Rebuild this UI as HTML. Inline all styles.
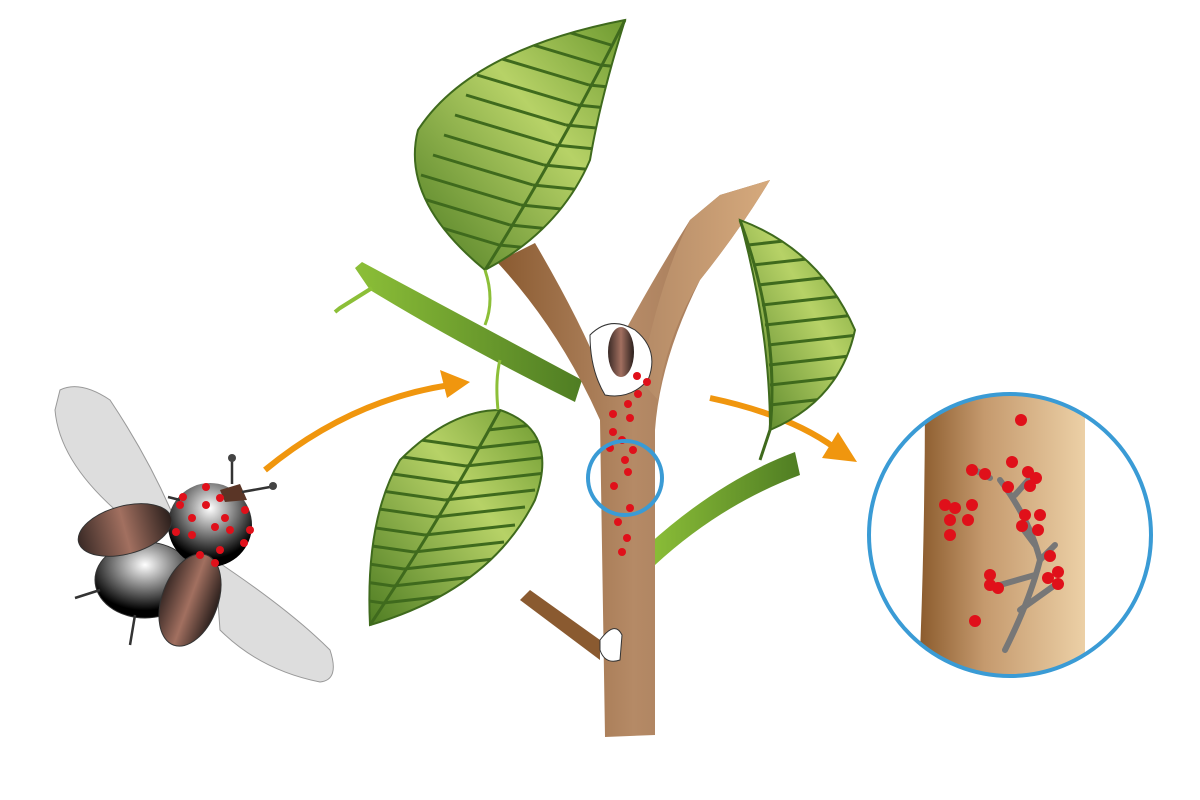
<!DOCTYPE html>
<html><head><meta charset="utf-8"><style>html,body{margin:0;padding:0;background:#fff}svg{display:block}</style></head><body>
<svg width="1200" height="800" viewBox="0 0 1200 800" xmlns="http://www.w3.org/2000/svg">
<defs>
<linearGradient id="trunk" x1="0" x2="1"><stop offset="0" stop-color="#8a5a30"/><stop offset="0.5" stop-color="#b58a66"/><stop offset="1" stop-color="#9b7050"/></linearGradient>
<linearGradient id="trunkR" x1="0" x2="1"><stop offset="0" stop-color="#b48a66"/><stop offset="1" stop-color="#d6aa7d"/></linearGradient>
<linearGradient id="zoomT" x1="0" x2="1"><stop offset="0" stop-color="#8a5a2c"/><stop offset="0.4" stop-color="#c59a6e"/><stop offset="1" stop-color="#ecd0a6"/></linearGradient>
<linearGradient id="leaf" x1="0" x2="1" y1="1" y2="0"><stop offset="0" stop-color="#4f7d23"/><stop offset="0.6" stop-color="#b7d267"/><stop offset="1" stop-color="#6e9a30"/></linearGradient>
<linearGradient id="twig" x1="0" x2="1"><stop offset="0" stop-color="#8cbf38"/><stop offset="1" stop-color="#4f7d23"/></linearGradient>
<radialGradient id="body" cx="0.5" cy="0.3" r="0.6"><stop offset="0" stop-color="#fff"/><stop offset="1" stop-color="#000"/></radialGradient>
<linearGradient id="ely" x1="0" x2="1"><stop offset="0" stop-color="#3a2a26"/><stop offset="0.5" stop-color="#a27060"/><stop offset="1" stop-color="#2a1f1c"/></linearGradient>
<clipPath id="l1"><path d="M485 270 Q400 200 418 130 Q470 50 625 20 Q600 100 590 160 Q560 230 485 270Z"/></clipPath>
<clipPath id="l2"><path d="M370 625 Q365 520 400 460 Q450 410 500 410 Q560 430 535 500 Q490 590 370 625Z"/></clipPath>
<clipPath id="l3"><path d="M740 220 Q820 250 855 330 Q840 400 770 430 Q770 330 740 220Z"/></clipPath>
</defs>
<!-- beetle wings -->
<path d="M60 390 Q80 380 110 400 Q150 460 175 520 L140 530 Q60 470 55 410Z" fill="#ddd" stroke="#999"/>
<path d="M215 560 Q290 610 330 650 Q340 680 320 682 Q260 670 220 630Z" fill="#ddd" stroke="#999"/>
<!-- beetle body -->
<ellipse cx="145" cy="580" rx="50" ry="38" fill="url(#body)" stroke="#333"/>
<circle cx="210" cy="525" r="42" fill="url(#body)"/>
<path d="M220 490 L240 484 L247 500 L225 502Z" fill="#5a3526"/>
<path d="M232 484 L232 460 M242 492 L270 487 M180 500 L168 497 M75 598 L100 590 M135 615 L130 645" stroke="#333" stroke-width="2.5" fill="none"/>
<circle cx="232" cy="458" r="4" fill="#444"/><circle cx="273" cy="486" r="4" fill="#444"/>
<ellipse cx="125" cy="530" rx="48" ry="24" transform="rotate(-15 125 530)" fill="url(#ely)" stroke="#333"/>
<ellipse cx="190" cy="600" rx="28" ry="48" transform="rotate(20 190 600)" fill="url(#ely)" stroke="#333"/>
<g fill="#e0101a">
<circle cx="183" cy="497" r="4"/><circle cx="206" cy="487" r="4"/><circle cx="220" cy="498" r="4"/><circle cx="180" cy="505" r="4"/><circle cx="206" cy="505" r="4"/><circle cx="192" cy="518" r="4"/><circle cx="225" cy="518" r="4"/><circle cx="245" cy="510" r="4"/><circle cx="215" cy="527" r="4"/><circle cx="230" cy="530" r="4"/><circle cx="250" cy="530" r="4"/><circle cx="176" cy="532" r="4"/><circle cx="192" cy="535" r="4"/><circle cx="244" cy="543" r="4"/><circle cx="220" cy="550" r="4"/><circle cx="200" cy="555" r="4"/><circle cx="215" cy="563" r="4"/>
</g>
<!-- arrows -->
<path d="M265 470 Q350 400 450 385" stroke="#f0960e" stroke-width="6" fill="none"/>
<path d="M470 382 L440 370 L447 398Z" fill="#f0960e"/>
<path d="M710 398 Q790 415 835 448" stroke="#f0960e" stroke-width="6" fill="none"/>
<path d="M857 462 L822 458 L838 432Z" fill="#f0960e"/>
<!-- green twigs -->
<path d="M355 268 L362 262 Q470 320 582 380 L575 402 Q460 345 370 290Z" fill="url(#twig)"/>
<path d="M372 288 L340 308 L335 312" stroke="#8cbf38" stroke-width="4" fill="none"/>
<path d="M648 545 Q720 480 795 452 L800 475 Q720 505 655 565Z" fill="url(#twig)"/>
<!-- trunk -->
<path d="M520 600 L530 590 L600 640 L600 660Z" fill="#8a5a30"/>
<path d="M497 262 L535 243 Q580 320 602 375 Q640 300 690 220 L720 195 L770 180 Q740 230 700 280 Q660 360 655 430 L655 735 L605 737 L600 420 Q560 330 497 262Z" fill="url(#trunk)"/>
<path d="M690 220 L720 195 L770 180 Q740 230 700 280 Q665 340 658 400 L640 380 Q660 280 690 220Z" fill="url(#trunkR)"/>
<path d="M600 640 Q615 620 622 635 L620 660 Q605 665 600 650Z" fill="#fff" stroke="#333"/>
<path d="M590 335 Q610 315 635 330 Q660 350 648 380 Q630 400 605 395 Q590 370 590 335Z" fill="#fff" stroke="#333"/>
<ellipse cx="621" cy="352" rx="13" ry="25" fill="url(#ely)"/>
<!-- leaves -->
<path d="M485 270 Q400 200 418 130 Q470 50 625 20 Q600 100 590 160 Q560 230 485 270Z" fill="url(#leaf)" stroke="#3f6a1d" stroke-width="2"/>
<g clip-path="url(#l1)" stroke="#3f6a1d" stroke-width="3" fill="none">
<path d="M499 245 l-100 -30 M510 225 l-100 -30 M521 205 l-100 -30 M533 185 l-100 -30 M544 165 l-100 -30 M555 145 l-100 -30 M566 125 l-100 -30 M577 105 l-100 -30 M589 85 l-100 -30 M600 65 l-100 -30 M611 45 l-100 -30"/>
<path d="M499 245 l100 10 M510 225 l100 10 M521 205 l100 10 M533 185 l100 10 M544 165 l100 10 M555 145 l100 10 M566 125 l100 10 M577 105 l100 10 M589 85 l100 10 M600 65 l100 10"/>
</g>
<path d="M485 270 Q560 150 625 20" stroke="#3f6a1d" stroke-width="3" fill="none"/>
<path d="M370 625 Q365 520 400 460 Q450 410 500 410 Q560 430 535 500 Q490 590 370 625Z" fill="url(#leaf)" stroke="#3f6a1d" stroke-width="2"/>
<g clip-path="url(#l2)" stroke="#3f6a1d" stroke-width="3" fill="none">
<path d="M383 603 l-70 -10 M393 586 l-70 -10 M404 569 l-70 -10 M414 552 l-70 -10 M425 535 l-70 -10 M435 517 l-70 -10 M445 500 l-70 -10 M456 483 l-70 -10 M466 466 l-70 -10 M477 448 l-70 -10"/>
<path d="M383 603 l90 -10 M393 586 l90 -10 M404 569 l90 -10 M414 552 l90 -10 M425 535 l90 -10 M435 517 l90 -10 M445 500 l90 -10 M456 483 l90 -10 M466 466 l90 -10 M477 448 l90 -10 M488 430 l90 -10"/>
</g>
<path d="M370 625 Q440 520 500 410" stroke="#3f6a1d" stroke-width="3" fill="none"/>
<path d="M740 220 Q820 250 855 330 Q840 400 770 430 Q770 330 740 220Z" fill="url(#leaf)" stroke="#3f6a1d" stroke-width="2"/>
<g clip-path="url(#l3)" stroke="#3f6a1d" stroke-width="3" fill="none">
<path d="M748 245 l90 -10 M753 265 l90 -10 M758 285 l90 -10 M762 305 l90 -10 M765 325 l90 -10 M768 345 l90 -10 M769 365 l90 -10 M770 385 l90 -10 M770 405 l90 -10"/>
</g>
<path d="M740 220 Q780 330 770 430 L760 460" stroke="#3f6a1d" stroke-width="3" fill="none"/>
<path d="M485 270 Q495 300 485 325 M498 410 Q495 380 500 360" stroke="#8cbf38" stroke-width="3" fill="none"/>
<!-- dots on trunk -->
<g fill="#e0101a">
<circle cx="637" cy="376" r="4"/><circle cx="647" cy="382" r="4"/><circle cx="638" cy="394" r="4"/><circle cx="628" cy="404" r="4"/><circle cx="613" cy="414" r="4"/><circle cx="630" cy="418" r="4"/><circle cx="613" cy="432" r="4"/><circle cx="622" cy="440" r="4"/><circle cx="610" cy="448" r="4"/><circle cx="633" cy="450" r="4"/><circle cx="625" cy="460" r="4"/><circle cx="628" cy="472" r="4"/><circle cx="614" cy="486" r="4"/><circle cx="630" cy="508" r="4"/><circle cx="618" cy="522" r="4"/><circle cx="627" cy="538" r="4"/><circle cx="622" cy="552" r="4"/>
</g>
<circle cx="625" cy="478" r="37" fill="none" stroke="#3a9bd5" stroke-width="4"/>
<!-- zoom -->
<clipPath id="cc"><circle cx="1010" cy="535" r="140"/></clipPath>
<g clip-path="url(#cc)">
<path d="M925 390 L1085 390 L1085 700 L918 700 Q925 550 925 390Z" fill="url(#zoomT)"/>
<g stroke="#777" stroke-width="6" fill="none" stroke-linecap="round">
<path d="M1005 650 Q1030 600 1040 560 Q1030 520 1000 480"/>
<path d="M1020 610 L1055 585"/><path d="M1035 575 L1000 585"/><path d="M1035 545 L1020 525"/><path d="M1015 495 L1030 478"/><path d="M990 478 L975 470"/><path d="M1040 560 L1055 545"/>
</g>
</g>
<g fill="#e0101a">
<circle cx="1021" cy="420" r="6"/><circle cx="972" cy="470" r="6"/><circle cx="985" cy="474" r="6"/><circle cx="1012" cy="462" r="6"/><circle cx="1028" cy="472" r="6"/><circle cx="1036" cy="478" r="6"/><circle cx="1008" cy="487" r="6"/><circle cx="1030" cy="486" r="6"/><circle cx="945" cy="505" r="6"/><circle cx="955" cy="508" r="6"/><circle cx="972" cy="505" r="6"/><circle cx="950" cy="520" r="6"/><circle cx="968" cy="520" r="6"/><circle cx="1025" cy="515" r="6"/><circle cx="1040" cy="515" r="6"/><circle cx="1022" cy="526" r="6"/><circle cx="1038" cy="530" r="6"/><circle cx="950" cy="535" r="6"/><circle cx="1050" cy="556" r="6"/><circle cx="990" cy="575" r="6"/><circle cx="998" cy="588" r="6"/><circle cx="990" cy="585" r="6"/><circle cx="1048" cy="578" r="6"/><circle cx="1058" cy="572" r="6"/><circle cx="1058" cy="584" r="6"/><circle cx="975" cy="621" r="6"/>
</g>
<circle cx="1010" cy="535" r="141" fill="none" stroke="#3a9bd5" stroke-width="4"/>
</svg>
</body></html>
